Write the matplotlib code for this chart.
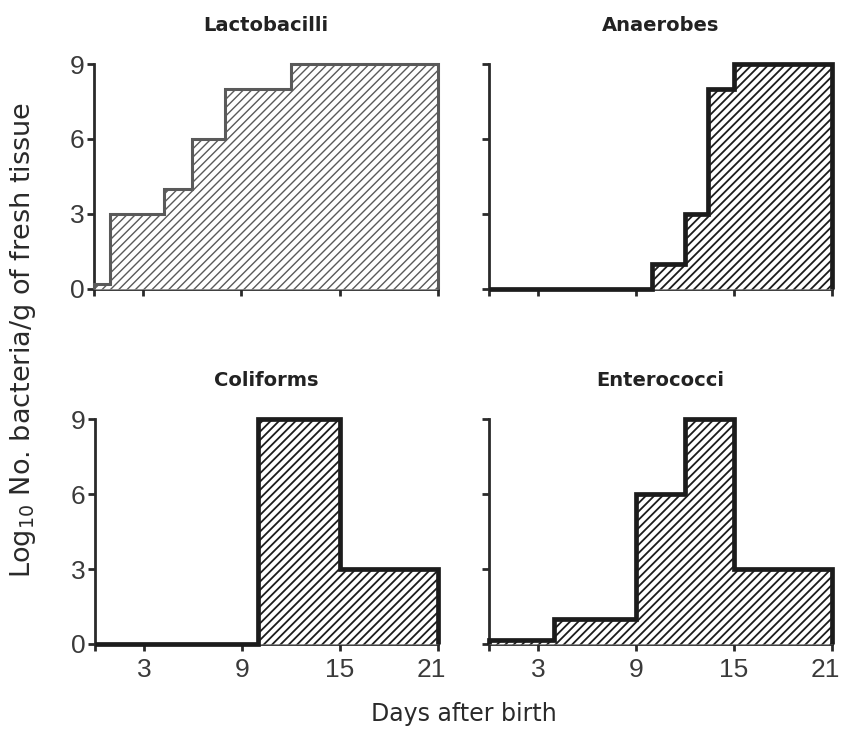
import matplotlib
matplotlib.use("Agg")
import matplotlib.pyplot as plt
import matplotlib.transforms as mtransforms

# step edges (days after birth) and log10 counts per panel
lacto_edges = [0, 1, 4.3, 6, 8, 12, 21]
lacto_vals = [0.2, 3, 4, 6, 8, 9]

anaer_edges = [0, 10, 12, 13.4, 15, 21]
anaer_vals = [0, 1, 3, 8, 9]

coli_edges = [0, 10, 15, 21]
coli_vals = [0, 9, 3]

entero_edges = [0, 4, 9, 12, 15, 21]
entero_vals = [0.15, 1, 6, 9, 3]

titles = ["Lactobacilli", "Anaerobes", "Coliforms", "Enterococci"]
xticks = [0, 3, 9, 15, 21]
xticklabels = ["", "3", "9", "15", "21"]
yticks = [0, 3, 6, 9]

panels = [(lacto_edges, lacto_vals), (anaer_edges, anaer_vals),
          (coli_edges, coli_vals), (entero_edges, entero_vals)]

fig = plt.figure(figsize=(8.41, 7.29), dpi=100)
pos = [[0.1118, 0.6036, 0.409, 0.3086], [0.5814, 0.6036, 0.408, 0.3086],
       [0.1130, 0.1166, 0.408, 0.3086], [0.5814, 0.1166, 0.408, 0.3086]]
nudge = mtransforms.ScaledTranslation(-0.07, 0, fig.dpi_scale_trans)

for i, (edges, vals) in enumerate(panels):
    ax = fig.add_axes(pos[i])
    if i == 0:
        col, lw, hlw = "#5a5a5a", 2.2, 1.0
    else:
        col, lw, hlw = "#1c1c1c", 3.4, 1.3
    plt.rcParams["hatch.linewidth"] = hlw
    ax.stairs(vals, edges, fill=True, facecolor="white", edgecolor=col,
              hatch="////", linewidth=lw, clip_on=False, zorder=3)
    ax.set_xlim(0, 21)
    ax.set_ylim(0, 9)
    for s in ["top", "right"]:
        ax.spines[s].set_visible(False)
    for s in ["left", "bottom"]:
        ax.spines[s].set_linewidth(2)
        ax.spines[s].set_color("#2a2a2a")
    ax.set_xticks(xticks)
    ax.set_yticks(yticks)
    ax.tick_params(length=5, width=2, color="#2a2a2a", labelsize=19,
                   labelcolor="#3a3a3a")
    ax.tick_params(axis="y", pad=2)
    ax.tick_params(axis="x", pad=5)
    if i >= 2:
        ax.set_xticklabels(xticklabels)
        last = ax.get_xticklabels()[-1]
        last.set_transform(last.get_transform() + nudge)
    else:
        ax.set_xticklabels([])
    if i % 2 == 1:
        ax.set_yticklabels([])
    for lab in ax.get_xticklabels() + ax.get_yticklabels():
        lab.set_family("Liberation Sans")
    ax.set_title(titles[i], fontsize=14, fontweight="bold", color="#222222",
                 pad=24)

fig.text(0.552, 0.004, "Days after birth", ha="center", va="bottom",
         fontsize=17, color="#2a2a2a")
fig.text(0.027, 0.534, r"Log$_{10}$ No. bacteria/g of fresh tissue",
         ha="center", va="center", rotation=90, fontsize=19.5,
         color="#2a2a2a")

fig.savefig("out.png", dpi=100)
